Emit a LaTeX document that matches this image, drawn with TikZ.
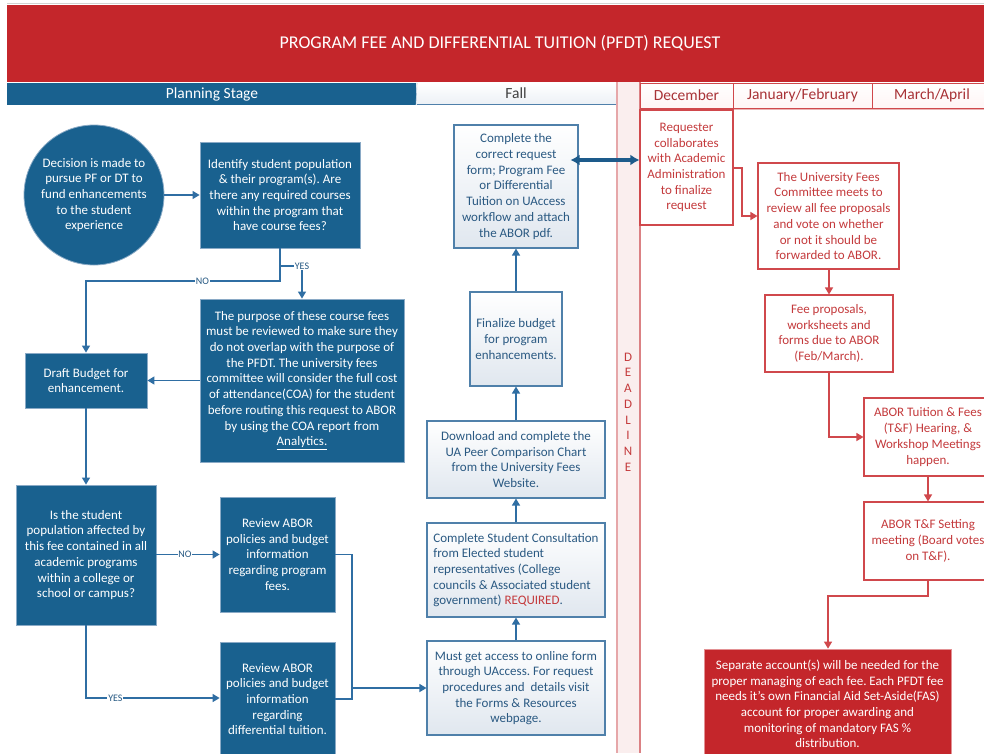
\documentclass[tikz,border=0pt]{standalone}
\usepackage{fontspec}
\setmainfont{Carlito}
\usetikzlibrary{arrows.meta}
\definecolor{bluef}{HTML}{19618F}
\definecolor{bluebd}{HTML}{8AAAC6}
\definecolor{conncol}{HTML}{2F6EA3}
\definecolor{fallbd}{HTML}{4F80AA}
\definecolor{fallbot}{HTML}{E0E7EF}
\definecolor{falltxt}{HTML}{2A5982}
\definecolor{titlered}{HTML}{C4262B}
\definecolor{redbd}{HTML}{D0484C}
\definecolor{redtxt}{HTML}{C43A3C}
\definecolor{dlfill}{HTML}{FAEEEE}
\definecolor{dlline}{HTML}{DB8184}
\definecolor{hdrtxt}{HTML}{A83236}
\definecolor{thickblue}{HTML}{1D5B8B}
\frenchspacing
\newcommand\myfont{\fontsize{13}{15.7}\selectfont}
\begin{document}
\begin{tikzpicture}[x=1pt,y=-1pt,
  bluebox/.style={draw=bluebd, line width=0.8pt, fill=bluef, text=white, align=center, inner sep=2pt, font=\myfont},
  fallbox/.style={draw=fallbd, line width=1.1pt, top color=white, bottom color=fallbot, text=falltxt, align=center, inner sep=2pt, font=\myfont},
  redbox/.style={draw=redbd, line width=1.1pt, fill=white, text=redtxt, align=center, inner sep=2pt, font=\myfont},
  conn/.style={draw=conncol, line width=1.3pt, -{Triangle[length=7pt,width=8pt]}},
  plainconn/.style={draw=conncol, line width=1.3pt},
  redconn/.style={draw=redbd, line width=1.3pt, -{Triangle[length=7pt,width=8pt]}},
  lbl/.style={fill=white, inner sep=0.8pt, font=\fontsize{10}{11}\selectfont, text=conncol!80!black},
  hdr/.style={draw=redbd, line width=1pt, top color=white, bottom color=red!4, text=hdrtxt, font=\fontsize{15.5}{17}\selectfont}
]
\useasboundingbox (0,0) rectangle (984,753);
\clip (0,0) rectangle (984,753);
\fill[white] (0,0) rectangle (984,753);
% top band
\draw[gray!35, line width=0.8pt] (7,3) -- (984,3);
\fill[titlered] (7,5) rectangle (990,82);
\node[text=white, font=\fontsize{18}{20}\selectfont] (title) at (500,43) {PROGRAM FEE AND DIFFERENTIAL TUITION (PFDT) REQUEST};
% header row
\fill[bluef] (7,83) rectangle (416,105);
\node[text=white, font=\fontsize{15.5}{17}\selectfont] (plan) at (212,94) {Planning Stage};
\shade[top color=white, bottom color=fallbot!60] (417,83) rectangle (616,104);
\draw[fallbd, line width=1.2pt] (417,104.5) -- (616,104.5);
\draw[fallbd!50, line width=0.6pt] (417,83) -- (416,105);
\node[text=black!75, font=\fontsize{15.5}{17}\selectfont] (fall) at (516,93.5) {Fall};
% deadline column
\fill[dlfill] (617,82) rectangle (640,753);
\draw[dlline!70, line width=1.3pt] (617,82) -- (617,753);
\draw[dlline, line width=1.5pt] (640,82) -- (640,753);
\node[text=redtxt, align=center, font=\fontsize{13}{15.7}\selectfont] (dl) at (628,412) {D\\E\\A\\D\\L\\I\\N\\E};
% month headers
\draw[dlline!60, line width=0.8pt] (733,109) -- (984,109);
\node[hdr, minimum width=93pt, minimum height=25pt, inner sep=0pt] (dec) at (686.5,95.5) {December};
\node[hdr, minimum width=139pt, minimum height=25pt, inner sep=0pt] (jan) at (802.5,95.5) {January/February};
\node[hdr, minimum width=120pt, minimum height=25pt, inner sep=0pt] (mar) at (932,95.5) {March/April};
% planning stage nodes
\node[circle, bluebox, minimum size=140pt] (circ) at (94,195) {Decision is made to\\pursue PF or DT to\\fund enhancements\\to the student\\experience};
\node[bluebox, minimum width=160pt, minimum height=106pt] (ident) at (280,195) {Identify student population\\\& their program(s). Are\\there any required courses\\within the program that\\have course fees?};
\node[bluebox, minimum width=204pt, minimum height=163pt] (purp) at (302,380.5) {The purpose of these course fees\\must be reviewed to make sure they\\do not overlap with the purpose of\\the PFDT. The university fees\\committee will consider the full cost\\of attendance(COA) for the student\\before routing this request to ABOR\\by using the COA report from\\\underline{Analytics.}};
\node[bluebox, minimum width=122pt, minimum height=55pt] (draft) at (86,380.5) {Draft Budget for\\enhancement.};
\node[bluebox, minimum width=140pt, minimum height=140pt] (isbox) at (86,555) {Is the student\\population affected by\\this fee contained in all\\academic programs\\within a college or\\school or campus?};
\node[bluebox, minimum width=115pt, minimum height=115pt] (rev1) at (277.5,554.5) {Review ABOR\\policies and budget\\information\\regarding program\\fees.};
\node[bluebox, minimum width=115pt, minimum height=114pt] (rev2) at (277.5,699) {Review ABOR\\policies and budget\\information\\regarding\\differential tuition.};
% fall nodes
\node[fallbox, minimum width=124pt, minimum height=123pt] (compl) at (516,186.5) {Complete the\\correct request\\form; Program Fee\\or Differential\\Tuition on UAccess\\workflow and attach\\the ABOR pdf.};
\node[fallbox, minimum width=92pt, minimum height=94pt] (final) at (516,339) {Finalize budget\\for program\\enhancements.};
\node[fallbox, minimum width=178pt, minimum height=77pt] (down) at (516,459.5) {Download and complete the\\UA Peer Comparison Chart\\from the University Fees\\Website.};
\node[fallbox, minimum width=178pt, minimum height=94pt, align=left] (cons) at (516,570) {Complete Student Consultation\\from Elected student\\representatives (College\\councils \& Associated student\\government) \textcolor{redtxt}{REQUIRED}.};
\node[fallbox, minimum width=178pt, minimum height=94pt] (must) at (516,688) {Must get access to online form\\through UAccess. For request\\procedures and\ \ details visit\\the Forms \& Resources\\webpage.};
% red nodes
\node[redbox, minimum width=93pt, minimum height=115pt] (req) at (686.5,167.5) {Requester\\collaborates\\with Academic\\Administration\\to finalize\\request};
\node[redbox, minimum width=141pt, minimum height=106pt] (comm) at (828.5,216) {The University Fees\\Committee meets to\\review all fee proposals\\and vote on whether\\or not it should be\\forwarded to ABOR.};
\node[redbox, minimum width=128pt, minimum height=77pt] (feep) at (829,333.5) {Fee proposals,\\worksheets and\\forms due to ABOR\\(Feb/March).};
\node[redbox, minimum width=128pt, minimum height=78pt] (tuit) at (928,437) {ABOR Tuition \& Fees\\(T\&F) Hearing, \&\\Workshop Meetings\\happen.};
\node[redbox, minimum width=128pt, minimum height=78pt] (sett) at (928,541) {ABOR T\&F Setting\\meeting (Board votes\\on T\&F).};
\node[draw=redbd!60, line width=0.8pt, fill=titlered, text=white, align=center, inner sep=2pt, font=\myfont, minimum width=247pt, minimum height=110pt] (sep) at (827.5,704) {Separate account(s) will be needed for the\\proper managing of each fee. Each PFDT fee\\needs it’s own Financial Aid Set-Aside(FAS)\\account for proper awarding and\\monitoring of mandatory FAS \%\\distribution.};
% coordinates
\coordinate (c1) at (280,266);
\coordinate (c2) at (280,281);
\coordinate (c3) at (86,281);
\coordinate (c4) at (86,698);
\coordinate (c5) at (352,554.5);
\coordinate (c6) at (352,699);
\coordinate (c7) at (352,688);
% planning connectors
\draw[conn] (circ.east) -- (ident.west |- circ.east);
\draw[conn] (ident.south) -- (c1) -| (purp.north) node[lbl, pos=0.5] {YES};
\draw[conn] (c1) -- (c2) -- (c3) node[lbl, pos=0.4] {NO} -- (draft.north);
\draw[conn] (purp.west |- draft.east) -- (draft.east);
\draw[conn] (draft.south) -- (isbox.north);
\draw[conn] (isbox.east |- rev1.west) -- (rev1.west) node[lbl, pos=0.45] {NO};
\draw[conn] (isbox.south) -- (c4) -- (rev2.west |- c4) node[lbl, pos=0.22] {YES};
\draw[plainconn] (rev1.east) -- (c5) -- (c6) -- (rev2.east |- c6);
\draw[conn] (c7) -- (must.west |- c7);
% fall connectors
\draw[conn] (must.north) -- (cons.south);
\draw[conn] (cons.north) -- (down.south);
\draw[conn] (down.north) -- (final.south);
\draw[conn] (final.north) -- (compl.south);
\draw[draw=thickblue, line width=4.5pt, {Latex[length=9pt,width=11pt]}-{Latex[length=9pt,width=11pt]}] ([xshift=-8pt]compl.east |- 0,160) -- (req.west |- 0,160);
% red connectors
\coordinate (r1) at (742,168);
\coordinate (r2) at (742,216);
\coordinate (r3) at (829,437);
\coordinate (r4) at (928,596);
\coordinate (r5) at (828,596);
\draw[redconn] (req.east |- r1) -- (r1) -- (r2) -- (comm.west);
\draw[redconn] (comm.south -| feep.north) -- (feep.north);
\draw[redconn] (feep.south) -- (r3) -- (tuit.west);
\draw[redconn] (tuit.south) -- (sett.north);
\draw[redconn] (sett.south) -- (r4) -- (r5) -- (sep.north -| r5);
\end{tikzpicture}
\end{document}
